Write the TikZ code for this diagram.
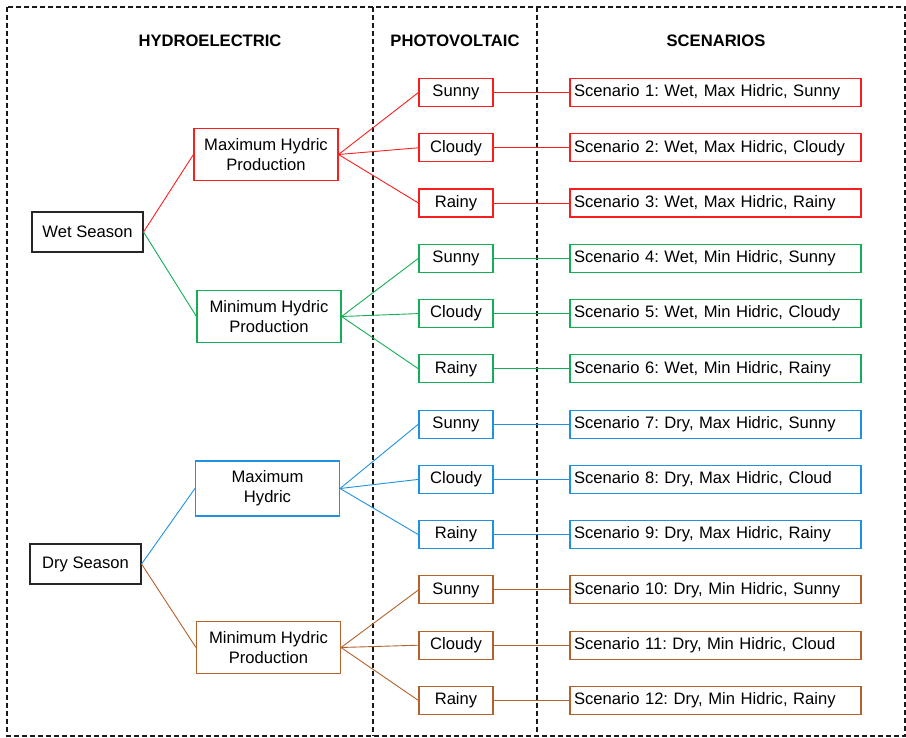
\documentclass[tikz,border=0pt]{standalone}
\usepackage{fontspec}
\setmainfont{Liberation Sans}
\frenchspacing
\definecolor{hred}{RGB}{250,30,30}
\definecolor{hgreen}{RGB}{20,175,85}
\definecolor{hblue}{RGB}{30,145,225}
\definecolor{hbrown}{RGB}{178,98,42}
\begin{document}
\begin{tikzpicture}[x=1pt, y=-1pt, font=\fontsize{16.6}{20}\selectfont,
	frame/.style={dash pattern=on 5pt off 3pt, line width=1.1pt, black!90},
	box/.style={draw, line width=1.1pt, inner sep=0pt, align=center, text=black},
	seasonbox/.style={box, draw=black!85, minimum width=111, minimum height=40},
	hydbox/.style={box, minimum width=144, minimum height=52},
	pvbox/.style={box, minimum width=74, minimum height=28},
	scbox/.style={box, minimum height=28, text width=283, inner xsep=4pt, align=left},
	link/.style={line width=0.9pt},
	head/.style={font=\fontsize{16.6}{20}\selectfont\bfseries}]
	\useasboundingbox (0,0) rectangle (906,738);
	\draw[frame] (7,7) rectangle (905,736);
	\draw[frame] (373,7) -- (373,736);
	\draw[frame] (537,7) -- (537,736);

	\node[head] (hhead) at (210,41) {HYDROELECTRIC};
	\node[head] (phead) at (455,41) {PHOTOVOLTAIC};
	\node[head] (shead) at (716,41) {SCENARIOS};

	\node[seasonbox] (wet) at (87.5,232) {Wet Season};
	\node[seasonbox] (dry) at (85.5,564) {Dry Season};
	\node[hydbox, draw=hred] (maxw) at (266,154.5) {Maximum Hydric\\Production};
	\node[hydbox, draw=hgreen] (minw) at (269,316.5) {Minimum Hydric\\Production};
	\node[hydbox, draw=hblue, minimum height=55] (maxd) at (267.5,488.5) {Maximum\\Hydric};
	\node[hydbox, draw=hbrown] (mind) at (268.5,647.5) {Minimum Hydric\\Production};

	\draw[link, hred] (wet.east) -- (maxw.west);
	\draw[link, hgreen] (wet.east) -- (minw.west);
	\draw[link, hblue] (dry.east) -- (maxd.west);
	\draw[link, hbrown] (dry.east) -- (mind.west);

	% photovoltaic states and resulting scenarios
	\foreach \i/\c/\p/\w/\txt in {1/hred/maxw/Sunny/{Wet, Max Hidric, Sunny},
		2/hred/maxw/Cloudy/{Wet, Max Hidric, Cloudy},
		3/hred/maxw/Rainy/{Wet, Max Hidric, Rainy},
		4/hgreen/minw/Sunny/{Wet, Min Hidric, Sunny},
		5/hgreen/minw/Cloudy/{Wet, Min Hidric, Cloudy},
		6/hgreen/minw/Rainy/{Wet, Min Hidric, Rainy},
		7/hblue/maxd/Sunny/{Dry, Max Hidric, Sunny},
		8/hblue/maxd/Cloudy/{Dry, Max Hidric, Cloud},
		9/hblue/maxd/Rainy/{Dry, Max Hidric, Rainy},
		10/hbrown/mind/Sunny/{Dry, Min Hidric, Sunny},
		11/hbrown/mind/Cloudy/{Dry, Min Hidric, Cloud},
		12/hbrown/mind/Rainy/{Dry, Min Hidric, Rainy}}{
		\pgfmathsetmacro\yy{92.5+(\i-1)*55.27}
		\node[pvbox, draw=\c] (pv\i) at (456,\yy) {\w};
		\node[scbox, draw=\c] (sc\i) at (715.5,\yy) {Scenario \i: \txt};
		\draw[link, \c] (\p.east) -- (pv\i.west);
		\draw[link, \c] (pv\i.east) -- (sc\i.west);
	}
\end{tikzpicture}
\end{document}
